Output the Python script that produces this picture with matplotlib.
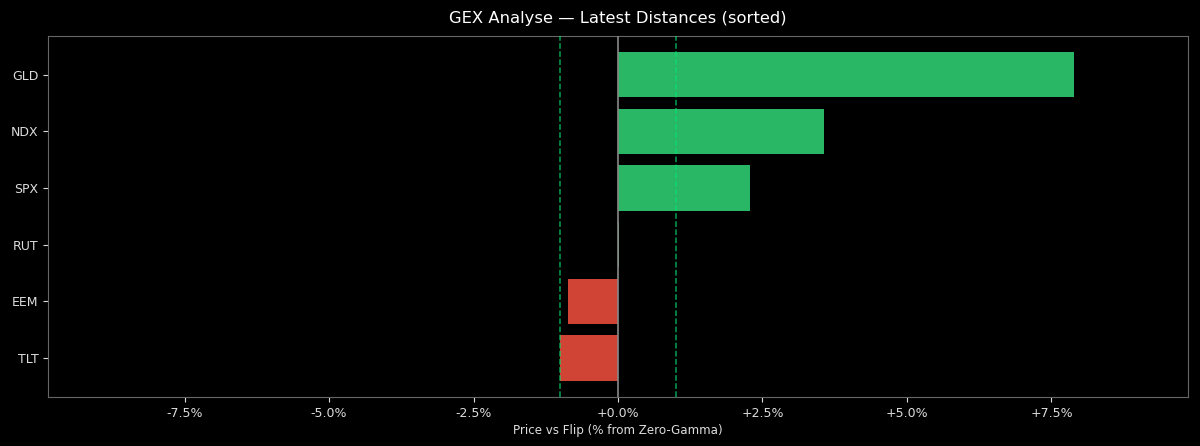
import matplotlib.pyplot as plt

symbols = ["GLD", "NDX", "SPX", "RUT", "EEM", "TLT"]
distances = [7.89, 3.56, 2.28, 0.02, -0.86, -1.0]
band = 1.0

plt.rcParams["font.family"] = "DejaVu Sans"
fig, ax = plt.subplots(figsize=(12, 4.46), dpi=100)
fig.patch.set_facecolor("black")
ax.set_facecolor("black")

colors = ["#2ecc71" if d >= 0 else "#e74c3c" for d in distances]
y = list(range(len(symbols)))[::-1]
ax.barh(y, distances, height=0.8, color=colors, alpha=0.9)
ax.axvline(0, color="#888888", linewidth=1.2, zorder=3)
ax.axvline(band, color="#00e676", linestyle="--", linewidth=1.1, alpha=0.7, zorder=3)
ax.axvline(-band, color="#00e676", linestyle="--", linewidth=1.1, alpha=0.7, zorder=3)

lim = max(abs(d) for d in distances) * 1.25
ax.set_xlim(-lim, lim)
ax.set_yticks(y)
ax.set_yticklabels(symbols)
ticks = [-7.5, -5.0, -2.5, 0.0, 2.5, 5.0, 7.5]
ax.set_xticks(ticks)
ax.set_xticklabels([f"{t:+.1f}%" for t in ticks])

ax.tick_params(colors="#dddddd", labelsize=9)
for s in ax.spines.values():
    s.set_color("#666666")
ax.set_xlabel("Price vs Flip (% from Zero-Gamma)", color="#dddddd", fontsize=8.6, labelpad=3)
ax.set_title("GEX Analyse — Latest Distances (sorted)", color="white", fontsize=11.8, pad=9)

plt.subplots_adjust(left=0.04, right=0.99, top=0.92, bottom=0.11)
plt.savefig("out.png", facecolor="black")
